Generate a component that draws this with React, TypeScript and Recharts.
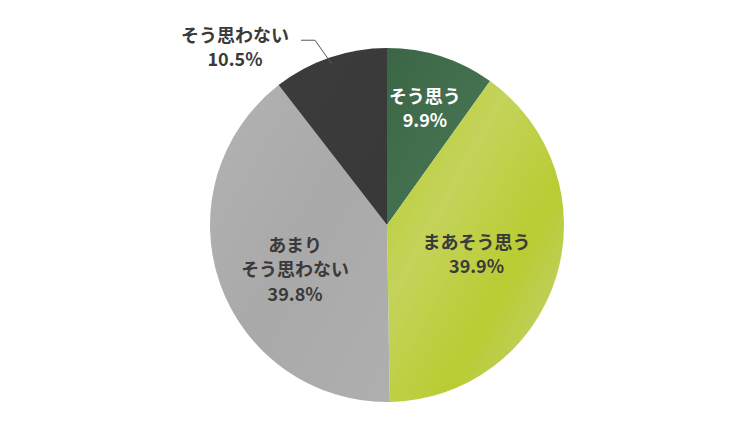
import React from 'react';
import { PieChart, Pie, Cell } from 'recharts';

// answer categories, clockwise from 12 o'clock
const categories = ['そう思う', 'まあそう思う', 'あまり\nそう思わない', 'そう思わない'];
const shares = [9.9, 39.9, 39.8, 10.5];
const percentLabels = ['9.9%', '39.9%', '39.8%', '10.5%'];
const fills = ['url(#gDark)', 'url(#gLime)', 'url(#gGray)', 'url(#gBlack)'];
const textColors = ['#ffffff', '#3a3a3a', '#3a3a3a', '#3a3a3a'];

const data = categories.map((name, i) => ({ name, value: shares[i] }));

if (typeof document !== 'undefined') document.body.style.margin = '0';

const RAD = Math.PI / 180;
const FONT = '"Noto Sans CJK JP", "Noto Sans", sans-serif';

const renderLabel = (props: any) => {
    const { cx, cy, midAngle, outerRadius, index } = props;
    const lines = [...categories[index].split('\n'), percentLabels[index]];
    const lh = 24.5;

    if (index === 3) {
        // outside label with leader line
        const r0 = outerRadius * 0.96;
        const sx = cx + r0 * Math.cos(-midAngle * RAD);
        const sy = cy + r0 * Math.sin(-midAngle * RAD);
        const ex = sx - 17;
        const ey = sy - 24;
        const tx = ex - 80;
        return (
            <g>
                <polyline points={`${sx},${sy} ${ex},${ey} ${ex - 14},${ey}`} fill="none" stroke="#555" strokeWidth={1} />
                {lines.map((t, i) => (
                    <text key={i} x={tx} y={ey + 6 + (i - 0.5) * lh} textAnchor="middle" dominantBaseline="central"
                        fill={textColors[index]} fontSize={18} fontWeight="bold" fontFamily={FONT}>
                        {t}
                    </text>
                ))}
            </g>
        );
    }

    const factor = [0.7, 0.53, 0.55][index];
    const shift = [0, 0, -11][index];
    const r = outerRadius * factor;
    const x = cx + r * Math.cos(-midAngle * RAD);
    const y = cy + r * Math.sin(-midAngle * RAD) - shift;
    return (
        <g>
            {lines.map((t, i) => (
                <text key={i} x={x} y={y + (i - (lines.length - 1) / 2) * lh} textAnchor="middle" dominantBaseline="central"
                    fill={textColors[index]} fontSize={18} fontWeight="bold" fontFamily={FONT}>
                    {t}
                </text>
            ))}
        </g>
    );
};

const App: React.FC = () => {
    return (
        <div style={{ width: 750, height: 426, background: '#fff' }}>
            <PieChart width={750} height={426} margin={{ top: 0, right: 0, bottom: 0, left: 0 }}>
                <defs>
                    <linearGradient id="gDark" x1="0" y1="0" x2="1" y2="1">
                        <stop offset="0%" stopColor="#3b6646" />
                        <stop offset="60%" stopColor="#447250" />
                        <stop offset="100%" stopColor="#3a6845" />
                    </linearGradient>
                    <linearGradient id="gLime" x1="0" y1="0" x2="1" y2="1">
                        <stop offset="0%" stopColor="#b6cb2a" />
                        <stop offset="35%" stopColor="#c4d35a" />
                        <stop offset="65%" stopColor="#b9cc32" />
                        <stop offset="100%" stopColor="#c6d289" />
                    </linearGradient>
                    <linearGradient id="gGray" x1="0" y1="0" x2="1" y2="1">
                        <stop offset="0%" stopColor="#b3b3b3" />
                        <stop offset="50%" stopColor="#a9a9a9" />
                        <stop offset="100%" stopColor="#afafaf" />
                    </linearGradient>
                    <linearGradient id="gBlack" x1="0" y1="0" x2="1" y2="1">
                        <stop offset="0%" stopColor="#3c3c3c" />
                        <stop offset="100%" stopColor="#383838" />
                    </linearGradient>
                </defs>
                <Pie
                    data={data}
                    dataKey="value"
                    cx={387}
                    cy={225}
                    outerRadius={177}
                    startAngle={90}
                    endAngle={-270}
                    stroke="none"
                    labelLine={false}
                    label={renderLabel}
                    isAnimationActive={false}
                >
                    {data.map((entry, index) => (
                        <Cell key={`cell-${index}`} fill={fills[index]} />
                    ))}
                </Pie>
            </PieChart>
        </div>
    );
};

export default App;
